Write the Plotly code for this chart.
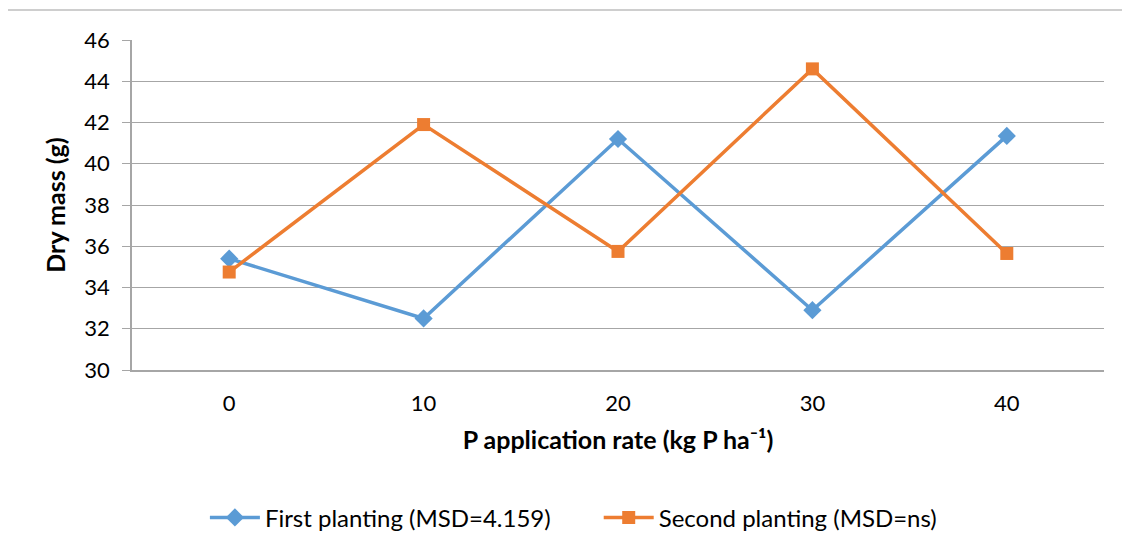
import plotly.graph_objects as go

# P application rates (kg P/ha) and dry mass (g) per planting
rates = [0, 10, 20, 30, 40]
first_planting = [35.4, 32.5, 41.2, 32.9, 41.35]
second_planting = [34.75, 41.9, 35.75, 44.6, 35.65]

BLUE = "#5B9BD5"
ORANGE = "#ED7D31"
FONT = "Lato, 'Open Sans', sans-serif"

fig = go.Figure()

fig.add_trace(go.Scatter(
    x=rates, y=first_planting, mode="lines+markers",
    name="First planting (MSD=4.159)" + "&nbsp;" * 7,
    line=dict(color=BLUE, width=3.5),
    marker=dict(symbol="diamond", size=14, color=BLUE)
))
fig.add_trace(go.Scatter(
    x=rates, y=second_planting, mode="lines+markers",
    name="Second planting (MSD=ns)",
    line=dict(color=ORANGE, width=3.5),
    marker=dict(symbol="square", size=13, color=ORANGE)
))

# outer chart-area border
fig.add_shape(type="rect", xref="paper", yref="paper",
              x0=-0.1286, y0=-1.0, x1=1.2, y1=1.0909,
              line=dict(color="#BFBFBF", width=1.5), layer="below")

fig.update_layout(
    width=1130, height=554,
    paper_bgcolor="white", plot_bgcolor="white",
    margin=dict(l=124, r=34, t=32, b=192),
    font=dict(family=FONT, size=22, color="#000000"),
    showlegend=True,
    legend=dict(orientation="h", x=0.075, xanchor="left",
                y=-0.448, yanchor="middle",
                font=dict(size=24), itemwidth=50,
                tracegroupgap=0),
    xaxis=dict(
        range=[-5, 45], tickmode="array", tickvals=rates,
        ticktext=[str(r) for r in rates],
        showgrid=False, zeroline=False,
        showline=True, linecolor="#A6A6A6", linewidth=1.5,
        ticks="", ticklabelstandoff=13,
        title=dict(text="<b>P application rate (kg P ha⁻¹)</b>",
                   font=dict(size=25), standoff=16),
    ),
    yaxis=dict(
        range=[30, 46], dtick=2,
        showgrid=True, gridcolor="#A6A6A6", gridwidth=1.3,
        zeroline=False,
        showline=True, linecolor="#A6A6A6", linewidth=1.5,
        ticks="outside", ticklen=8, tickcolor="#A6A6A6",
        ticklabelstandoff=8,
        title=dict(text="<b>Dry mass (g)</b>", font=dict(size=25), standoff=12),
    ),
)

fig.write_html("out.html")
